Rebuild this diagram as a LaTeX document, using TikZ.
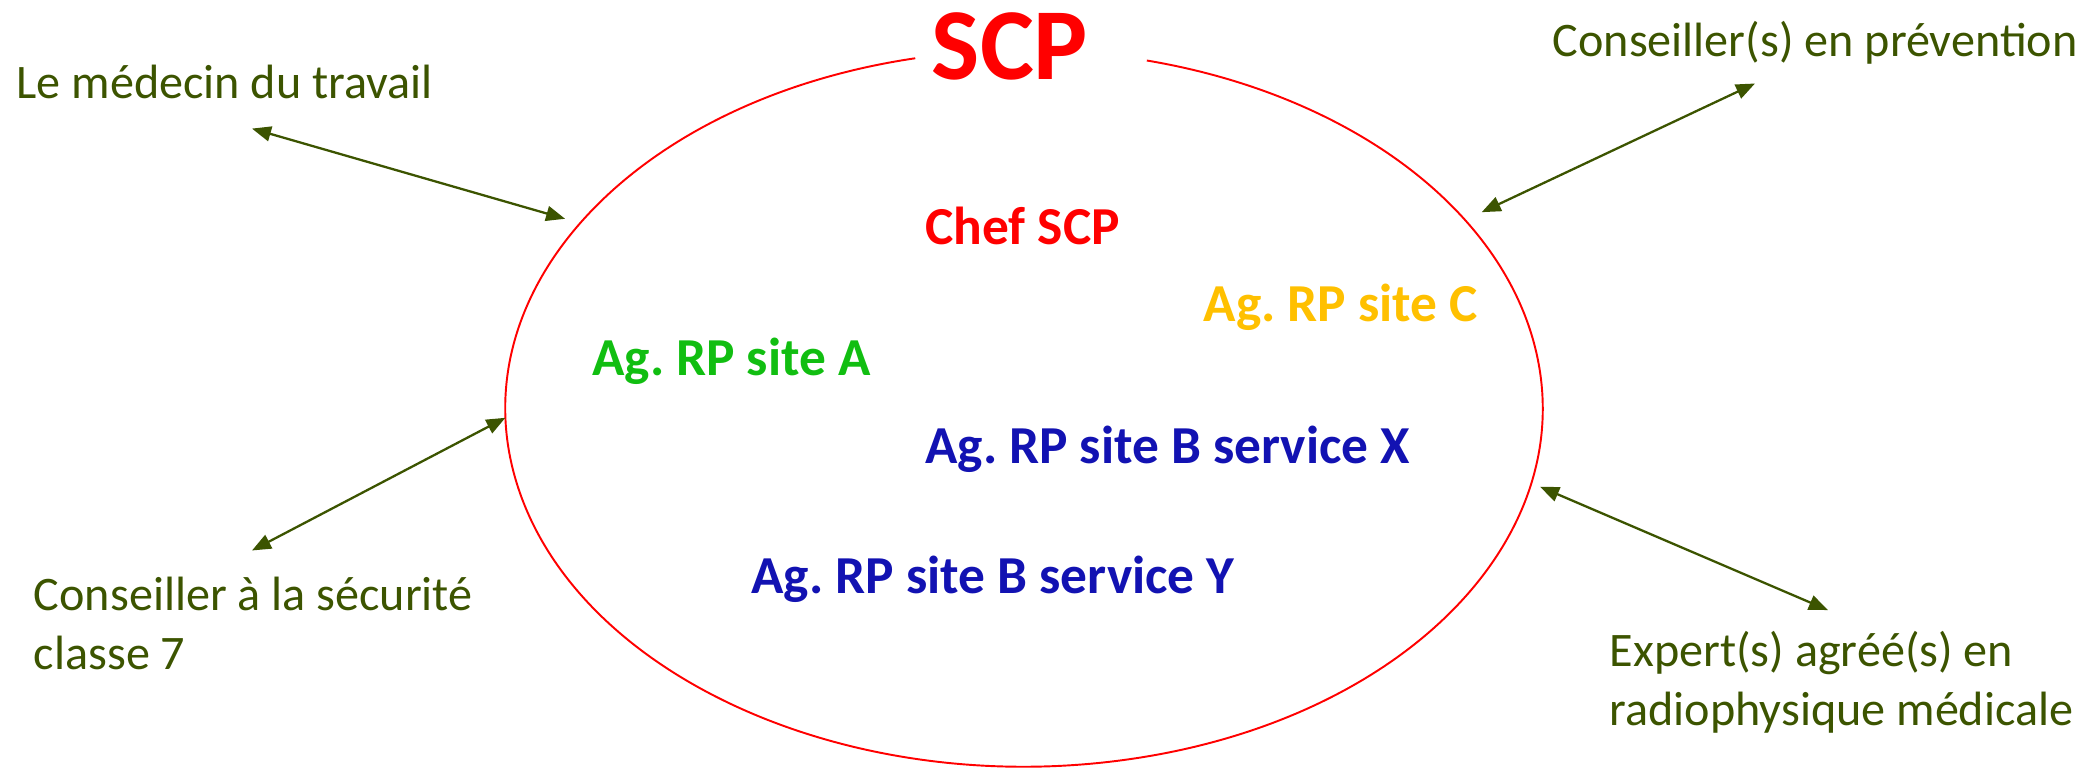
\documentclass[tikz,border=0pt]{standalone}
\usepackage{fontspec}
\setmainfont{Carlito}
\usetikzlibrary{arrows.meta}
\definecolor{scpolive}{RGB}{60,84,0}
\definecolor{scpblue}{RGB}{18,18,178}
\definecolor{scpgreen}{RGB}{17,190,17}
\definecolor{scporange}{RGB}{255,192,0}
\frenchspacing
\begin{document}
\begin{tikzpicture}[
    partner/.style={text=scpolive, font=\fontsize{13.7}{17}\selectfont, align=left, anchor=west, inner sep=0pt},
    member/.style={font=\bfseries\fontsize{15.2}{18}\selectfont, inner sep=0pt},
    link/.style={scpolive, line width=0.65pt, {Triangle[length=1.9mm,width=1.5mm]}-{Triangle[length=1.9mm,width=1.5mm]}}
  ]
    \useasboundingbox (0,0) rectangle (20.8,7.68);
    % the service, open at the top for its name
    \draw[red, line width=0.55pt] (10.24,3.595) ++(102.1:5.187 and 3.582)
        arc [start angle=102.1, end angle=436.3, x radius=5.187, y radius=3.582];
    \node[inner sep=0pt, text=red, font=\bfseries\fontsize{29}{35}\selectfont] (scp) at (10.10,7.215){SCP};
    \node[member, text=red] (chef) at (10.227,5.425){Chef SCP};
    \node[member, text=scporange, anchor=west] (siteC) at (12.03,4.603){Ag. RP site C};
    \node[member, text=scpgreen, anchor=west] (siteA) at (5.916,4.072){Ag. RP site A};
    \node[member, text=scpblue, anchor=west] (siteBX) at (9.246,3.184){Ag. RP site B service X};
    \node[member, text=scpblue, anchor=west] (siteBY) at (7.508,1.884){Ag. RP site B service Y};
    % the partners
    \node[partner] (medecin) at (0.159,6.858){Le médecin du travail};
    \node[partner] (prev) at (15.52,7.256){Conseiller(s) en prévention};
    \node[partner] (secu) at (0.332,1.446){Conseiller à la sécurité\\classe 7};
    \node[partner] (expert) at (16.09,0.856){Expert(s) agréé(s) en\\radiophysique médicale};
    % arrow ends
    \coordinate (medecinend) at (2.520,6.394);
    \coordinate (medecinscp) at (5.651,5.492);
    \coordinate (prevend) at (17.550,6.845);
    \coordinate (prevscp) at (14.817,5.558);
    \coordinate (secuend) at (2.520,2.175);
    \coordinate (secuscp) at (5.054,3.502);
    \coordinate (expertend) at (18.279,1.579);
    \coordinate (expertscp) at (15.401,2.812);
    \draw[link] (medecinend)--(medecinscp);
    \draw[link] (prevscp)--(prevend);
    \draw[link] (secuend)--(secuscp);
    \draw[link] (expertscp)--(expertend);
\end{tikzpicture}
\end{document}
